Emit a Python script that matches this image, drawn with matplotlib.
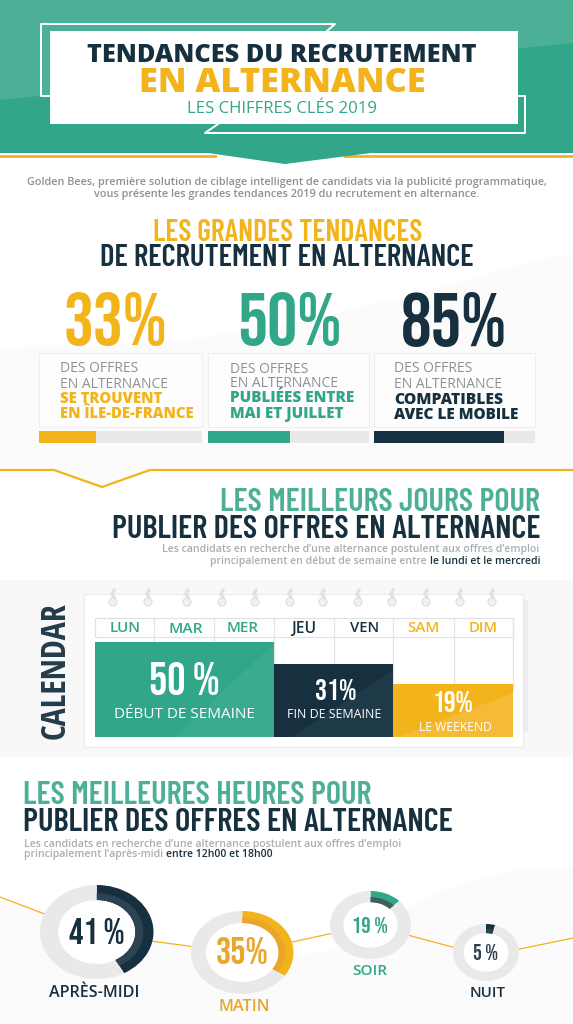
import matplotlib
matplotlib.use('Agg')
import logging
logging.getLogger('matplotlib.font_manager').setLevel(logging.ERROR)
import matplotlib.pyplot as plt
from matplotlib.patches import Polygon, Rectangle, Ellipse

# ---------- data ----------
card_pct_labels = ['33%', '50%', '85%']
card_bar_fill = [35, 51, 81]
card_line1 = 'DES OFFRES'
card_line2 = 'EN ALTERNANCE'
card_bold = [['SE TROUVENT', 'EN ÎLE-DE-FRANCE'],
             ['PUBLIÉES ENTRE', 'MAI ET JUILLET'],
             ['COMPATIBLES', 'AVEC LE MOBILE']]
days = ['LUN', 'MAR', 'MER', 'JEU', 'VEN', 'SAM', 'DIM']
cal_pct_labels = ['50 %', '31%', '19%']
cal_names = ['DÉBUT DE SEMAINE', 'FIN DE SEMAINE', 'LE WEEKEND']
cal_levels = [95, 73, 53]
hour_names = ['APRÈS-MIDI', 'MATIN', 'SOIR', 'NUIT']
hour_pct_labels = ['41 %', '35%', '19 %', '5 %']
hour_arc_share = [42, 34.5, 12.5, 4.5]

DARK = '#17303f'
GREEN = '#31a688'
LGREEN = '#4db096'
YEL = '#f3b31a'
ORG = '#e9a62c'
GREY = '#8b9194'
LGREY = '#a9aeb0'
PALE = '#fbfbfb'
SANS = 'Open Sans'
HEAD = ['Barlow Condensed', 'Roboto Condensed', 'DejaVu Sans']
NUM = ['Bebas Neue', 'Oswald', 'Roboto Condensed', 'DejaVu Sans']
COND = ['Open Sans Condensed', 'Roboto Condensed', 'DejaVu Sans']

fig = plt.figure(figsize=(5.73, 10.24), dpi=100, facecolor='white')
ax = fig.add_axes([0, 0, 1, 1])
ax.set_xlim(0, 573)
ax.set_ylim(1024, 0)
ax.axis('off')
rend = fig.canvas.get_renderer()


def T(s, x0, x1, yc, color, family=SANS, weight='normal', z=10, cap=0.714):
    t = ax.text(x0, yc, s, color=color, family=family, weight=weight, fontsize=10,
                ha='left', va='baseline', zorder=z)
    w = t.get_window_extent(rend).width
    fs = 10 * (x1 - x0) / w
    t.set_fontsize(fs)
    t.set_y(yc + cap * fs / 0.72 / 2)
    return t


def H(s, x0, x1, yc, color):
    return T(s, x0, x1, yc, color, HEAD, 600, cap=0.70)


def N(s, x0, x1, yc, color):
    return T(s, x0, x1, yc, color, NUM, 'normal', cap=0.70)


def poly(pts, fc, z=1):
    ax.add_patch(Polygon(pts, closed=True, fc=fc, ec='none', lw=0, zorder=z))


# ---------- header ----------
ax.add_patch(Rectangle((0, 0), 573, 153, fc=GREEN, ec='none', zorder=1))
poly([(0, 0), (573, 0), (573, 43), (0, 100)], '#4bb096', z=1)
ax.plot([0, 215], [156, 156], color=YEL, lw=2, zorder=1)
ax.plot([345, 573], [156, 156], color=YEL, lw=2, zorder=1)
poly([(208, 153), (371, 153), (285, 164)], GREEN, z=2)
ax.plot([51, 41, 41, 335, 327], [96, 96, 24, 24, 31], color='white', lw=1.4, zorder=2)
ax.plot([518, 525, 525, 205, 218], [96, 96, 133, 133, 124], color='white', lw=1.4, zorder=2)
ax.add_patch(Rectangle((50, 31), 468, 93, fc='white', ec='none', zorder=3))
T('TENDANCES DU RECRUTEMENT', 87, 478, 53, DARK, weight=800)
T('EN ALTERNANCE', 139, 427, 79.5, YEL, weight=800)
T('LES CHIFFRES CLÉS 2019', 187, 377, 107, GREEN)
T('Golden Bees, première solution de ciblage intelligent de candidats via la publicité programmatique,',
  27, 546, 181.5, GREY, weight='semibold')
T('vous présente les grandes tendances 2019 du recrutement en alternance.',
  94, 478, 193.5, GREY, weight='semibold')

# ---------- section 1 ----------
poly([(0, 347), (100, 346), (200, 338), (300, 322), (400, 298), (475, 278), (530, 262), (573, 254),
      (573, 470), (150, 470), (102, 487), (54, 470), (0, 470)], PALE, z=0)
H('LES GRANDES TENDANCES', 153, 421, 230.5, YEL)
H('DE RECRUTEMENT EN ALTERNANCE', 100, 474, 255.5, DARK)

card_x = [(39, 202), (208, 369), (374, 535)]
card_text_x = [60, 230, 394]
card_colors = [YEL, GREEN, DARK]
pct_x = [(63, 168), (237, 342), (401, 507)]
grey_y = [(367, 383), (368, 382), (367, 383)]
bold_y = [(398, 413), (397, 413), (398, 413)]
line1_w = [78, 78, 78]
line2_w = [108, 108, 108]
bold_w = [[103, 135], [125, 114], [109, 126]]
for i in range(3):
    x0, x1 = card_x[i]
    c = card_colors[i]
    N(card_pct_labels[i], pct_x[i][0], pct_x[i][1], 319, c)
    ax.add_patch(Rectangle((x0, 353), x1 - x0, 74, fc='#fdfdfd', ec='#efefef', lw=0.8, zorder=2))
    tx = card_text_x[i]
    T(card_line1, tx, tx + line1_w[i], grey_y[i][0], GREY)
    T(card_line2, tx, tx + line2_w[i], grey_y[i][1], GREY)
    T(card_bold[i][0], tx, tx + bold_w[i][0], bold_y[i][0], c, weight=800)
    T(card_bold[i][1], tx, tx + bold_w[i][1], bold_y[i][1], c, weight=800)
    ax.barh(437, x1 - x0, left=x0, height=12, color='#e9e9e9', zorder=2)
    ax.barh(437, card_bar_fill[i] / 100 * (x1 - x0), left=x0, height=12, color=c, zorder=3)

ax.plot([0, 54, 102, 150, 573], [470, 470, 487, 470, 470], color=YEL, lw=1.6, zorder=4)

# ---------- section 2 ----------
H('LES MEILLEURS JOURS POUR', 220, 540, 500, LGREEN)
H('PUBLIER DES OFFRES EN ALTERNANCE', 112.5, 540, 527, DARK)
T('Les candidats en recherche d’une alternance postulent aux offres d’emploi',
  162, 540, 548, LGREY, weight='semibold')
T('principalement en début de semaine entre', 209.5, 427, 560, LGREY, weight='semibold')
T('le lundi et le mercredi', 429.5, 540, 560, DARK, weight='semibold')

ax.add_patch(Rectangle((0, 580), 573, 177, fc='#f8f8f8', ec='none', zorder=0))
ax.add_patch(Rectangle((90, 600), 438, 132, fc='#ededed', ec='none', zorder=1))
ax.add_patch(Rectangle((84, 594), 439, 153, fc='white', ec='#ececec', lw=0.8, zorder=2))
ring_x = [113, 148, 187, 222, 255, 290, 323, 358, 392, 426, 460, 492]
for rx in ring_x:
    ax.plot([rx + 1, rx - 1, rx + 1, rx], [590, 594, 597, 602], color='#e2e2e2', lw=2.6, zorder=3,
            solid_capstyle='round')
    ax.add_patch(Ellipse((rx, 602), 8, 8, fc='#f1f1f1', ec='#dddddd', lw=0.8, zorder=3))

col_edges = [95, 154, 214, 274, 334, 393, 454, 513]
ax.add_patch(Rectangle((95, 618), 418, 19, fc='white', ec='#e2e2e2', lw=0.9, zorder=3))
for e in col_edges[1:]:
    ax.plot([e, e], [618, 690], color='#e4e4e4', lw=0.9, zorder=3)
day_colors = [GREEN, GREEN, GREEN, DARK, DARK, YEL, YEL]
day_x = [(110, 141), (168, 202), (227, 259), (291, 316), (350, 379), (407, 439), (469, 498)]
for d, c, dx in zip(days, day_colors, day_x):
    T(d, dx[0], dx[1], 627, c, weight='semibold')

cal_left = [95, 274, 393]
cal_width = [179, 119, 120]
cal_colors = [GREEN, DARK, YEL]
ax.bar(cal_left, [-h for h in cal_levels], width=cal_width, bottom=737, align='edge',
       color=cal_colors, zorder=4)
poly([(274, 643), (175, 737), (274, 737)], '#3aab8e', z=4.5)
poly([(393, 670), (292, 737), (393, 737)], '#1f3a49', z=4.5)
poly([(513, 693), (398, 737), (513, 737)], '#f5bb36', z=4.5)
N(cal_pct_labels[0], 149, 220, 679.5, 'white')
N(cal_pct_labels[1], 315, 357, 689.5, 'white')
N(cal_pct_labels[2], 433, 474, 702, 'white')
T(cal_names[0], 114, 255, 713, 'white')
T(cal_names[1], 287, 381, 714, 'white')
T(cal_names[2], 419, 492, 727, 'white')
cal_t = ax.text(72.5, 670.5, 'CALENDAR', rotation=90, color='#223c4b', family=COND, weight='bold',
                fontsize=20, ha='right', va='center', zorder=5)
cal_t.set_fontsize(20 * 137 / cal_t.get_window_extent(rend).height)

# ---------- section 3 ----------
poly([(0, 898), (60, 915), (120, 932), (200, 950), (280, 960), (330, 950), (370, 930), (402, 912), (440, 892),
      (475, 880), (520, 870), (573, 867), (573, 1024), (0, 1024)], PALE, z=0)
H('LES MEILLEURES HEURES POUR', 22.7, 371, 793, LGREEN)
H('PUBLIER DES OFFRES EN ALTERNANCE', 22.7, 452, 820, DARK)
T('Les candidats en recherche d’une alternance postulent aux offres d’emploi',
  24, 401, 843, LGREY, weight='semibold')
T('principalement l’après-midi', 24, 162, 853.5, LGREY, weight='semibold')
T('entre 12h00 et 18h00', 165.6, 272, 853.5, DARK, weight='semibold')

line_x = [0, 97, 242, 370, 486, 573]
line_y = [897, 934, 953, 925, 956, 938]
ax.plot(line_x, line_y, color=YEL, lw=0.9, zorder=1)

boxes = [(40, 153.5, 885, 979), (191, 293.5, 911, 994), (330, 411, 891, 959), (453, 519, 924, 981)]
ring_w = [0.32, 0.29, 0.33, 0.32]
arc_colors = [DARK, YEL, GREEN, DARK]
band_colors = ['#2c4452', ORG, '#3d5f5e', '#2c4452']
num_colors = [DARK, ORG, GREEN, '#2c4452']
num_x = [(69, 125), (216, 269), (352, 388), (473, 498)]
num_y = [931, 951, 925, 952.5]
name_x = [(49, 139), (218, 269), (352, 387), (470, 506)]
name_y = [991, 1005, 970, 992]
name_colors = [DARK, ORG, GREEN, DARK]
for i, (x0, x1, y0, y1) in enumerate(boxes):
    cx, cy = (x0 + x1) / 2, (y0 + y1) / 2
    ax.add_patch(Ellipse((cx, cy), x1 - x0, y1 - y0, fc='white', ec='none', zorder=2))
    bw, bh = (x1 - x0) * 1.25, (y1 - y0) * 1.25
    a = fig.add_axes([(cx - bw / 2) / 573, 1 - (cy + bh / 2) / 1024, bw / 573, bh / 1024])
    a.pie([hour_arc_share[i], 100 - hour_arc_share[i]], startangle=90, counterclock=False,
          colors=[arc_colors[i], '#e9e9e9'], radius=1,
          wedgeprops=dict(width=ring_w[i], linewidth=0))
    inner_r = 1 - ring_w[i] * 0.55
    a.pie([hour_arc_share[i], 100 - hour_arc_share[i]], startangle=90, counterclock=False,
          colors=[band_colors[i], 'none'], radius=inner_r,
          wedgeprops=dict(width=ring_w[i] * 0.45, linewidth=0))
    a.set_xlim(-1.25, 1.25)
    a.set_ylim(-1.25, 1.25)
    a.set_aspect('auto')
    a.patch.set_alpha(0)
    N(hour_pct_labels[i], num_x[i][0], num_x[i][1], num_y[i], num_colors[i])
    T(hour_names[i], name_x[i][0], name_x[i][1], name_y[i], name_colors[i], weight='semibold')

fig.savefig('out.png', dpi=100)
